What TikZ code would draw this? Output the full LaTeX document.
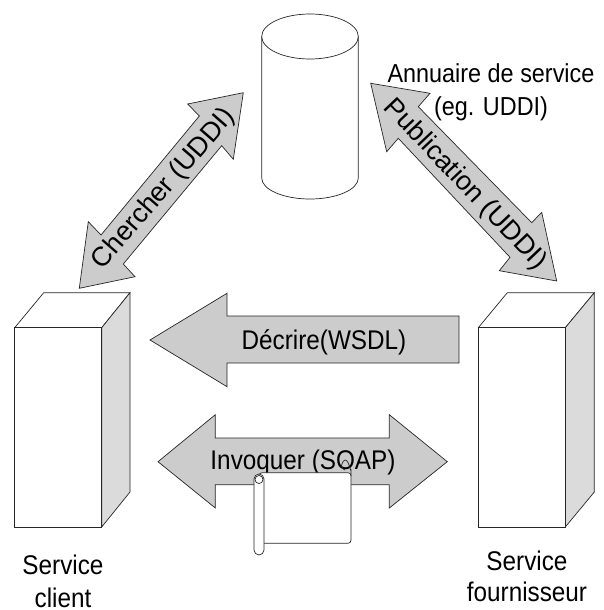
\documentclass[tikz,border=0pt]{standalone}
\usepackage{fontspec}
\setmainfont{Liberation Sans}
\newfontfamily\etroit[FakeStretch=0.9]{Liberation Sans}
\usetikzlibrary{positioning}
\begin{document}
\begin{tikzpicture}[x=1pt,y=-1pt,
  ligne/.style={draw=black!85,line width=0.7pt,line join=miter},
  fleche/.style={ligne,fill=black!20},
  boite/.style={ligne,fill=white},
  cote/.style={ligne,fill=black!14},
  etiquette/.style={font=\etroit\fontsize{27}{33}\selectfont,inner sep=0pt,align=center},
  penche/.style={font=\fontsize{27}{33}\selectfont,inner sep=0pt}]
\useasboundingbox (0,0) rectangle (604,610);
%
% annuaire
\draw[boite] (261.7,36.5) -- (261.7,178) arc[start angle=180,end angle=360,x radius=48.3,y radius=-21] -- (358.3,36.5);
\draw[boite] (310,36.5) ellipse[x radius=48.3,y radius=22.5];
%
% service client
\draw[boite] (14.7,327.7) -- (43.7,292.7) -- (130,292.7) -- (101.7,327.7) -- cycle;
\draw[cote] (101.7,327.7) -- (130,292.7) -- (130,492) -- (101.7,527) -- cycle;
\draw[boite] (14.7,327.7) rectangle (101.7,527);
%
% service fournisseur
\draw[boite] (478.3,327.7) -- (507.3,292.7) -- (594.3,292.7) -- (565.3,327.7) -- cycle;
\draw[cote] (565.3,327.7) -- (594.3,292.7) -- (594.3,492) -- (565.3,527) -- cycle;
\draw[boite] (478.3,327.7) rectangle (565.3,527);
%
% fleches
\draw[fleche] (243.3,92.7) -- (187.7,104) -- (199.3,116) -- (101,235) -- (88.3,221.7) -- (79.3,288.3) -- (135,276.7) -- (123.3,264) -- (221.7,145.7) -- (233.3,159.3) -- cycle;
\draw[fleche] (370.7,83.3) -- (430,93.3) -- (418.3,106.7) -- (531.7,222.7) -- (541.7,212.3) -- (556.7,281) -- (499.3,270.7) -- (510,257.3) -- (398.3,138.3) -- (386.7,151.7) -- cycle;
\draw[fleche] (150,340) -- (227,293.3) -- (227,316) -- (459,316) -- (459,363) -- (227,363) -- (227,386.7) -- cycle;
\draw[fleche] (158,461.7) -- (215.3,414.7) -- (215.3,438) -- (389.3,438) -- (389.3,414.7) -- (447.3,461.7) -- (389.3,508) -- (389.3,484.7) -- (215.3,484.7) -- (215.3,508) -- cycle;
%
\node[penche,rotate=49] (chercher) at (164,189) {Chercher (UDDI)};
\node[penche,rotate=-46.5] (publication) at (465,185) {Publication (UDDI)};
\node[etiquette] (decrire) at (324,342.5) {Décrire(WSDL)};
\node[etiquette] (invoquer) at (303,463) {Invoquer (SOAP)};
%
% parchemin
\draw[boite,rounded corners=3pt] (259,472.7) -- (351,472.7) -- (351,543.3) -- (259,543.3) -- cycle;
\draw[boite,rounded corners=5pt] (254,474) rectangle (264,555);
\draw[ligne] (259,479.5) circle[radius=4];
\draw[ligne] (351,476) -- (351,470) to[out=-90,in=0] (345,460) to[out=180,in=-90] (341,466) to[out=90,in=180] (345,470);
%
\node[etiquette,font=\etroit\fontsize{26}{33}\selectfont] (annuaire) at (491,92) {Annuaire de service\\(eg. UDDI)};
\node[etiquette] (client) at (63,581) {Service\\client};
\node[etiquette,font=\etroit\fontsize{27}{31}\selectfont] (fournisseur) at (527,576) {Service\\fournisseur};
\end{tikzpicture}
\end{document}
